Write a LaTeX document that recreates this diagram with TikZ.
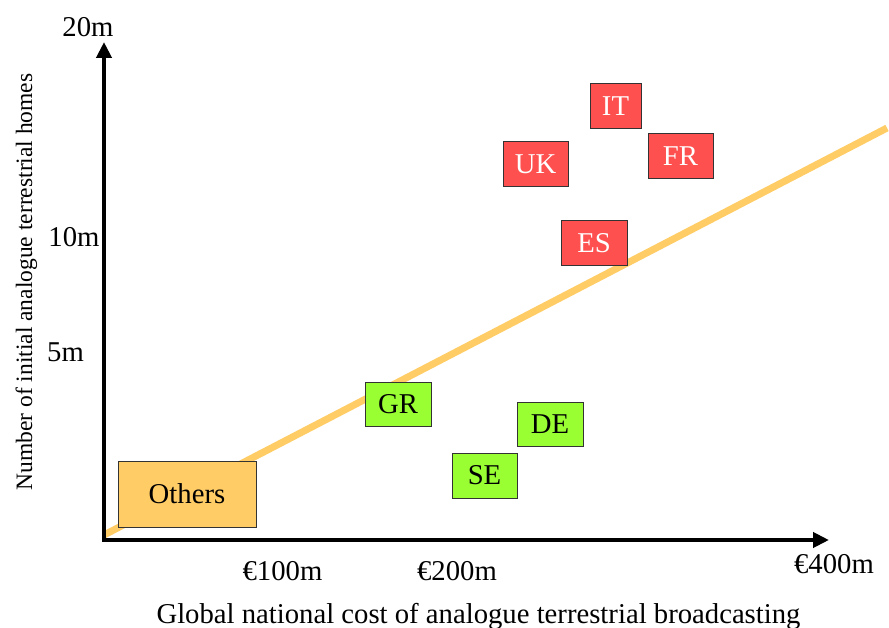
\documentclass[tikz,border=0pt]{standalone}
\usepackage{fontspec}
\setmainfont{Liberation Serif}
\usetikzlibrary{arrows.meta}
\definecolor{boxred}{HTML}{FF5050}
\definecolor{boxgreen}{HTML}{99FF33}
\definecolor{boxorange}{HTML}{FFCC66}
\begin{document}
\begin{tikzpicture}[x=1pt,y=-1pt,
  lbl/.style={font=\fontsize{28.7}{34}\selectfont, inner sep=0pt, anchor=base},
  cbox/.style={draw=black!80, line width=1pt, inner sep=0pt, font=\fontsize{28.7}{34}\selectfont},
  redbox/.style={cbox, fill=boxred, text=white},
  greenbox/.style={cbox, fill=boxgreen, text=black},
  axis/.style={line width=4pt, -{Triangle[length=16pt,width=15pt]}}]
\useasboundingbox (0,0) rectangle (889,628);
% trend line
\coordinate (ls) at (104,535);
\coordinate (le) at (887,128);
\draw[boxorange, line width=7pt] (ls) -- (le);
% axes
\coordinate (o) at (104,540);
\coordinate (oy) at (102,540);
\coordinate (ytip) at (104,42);
\coordinate (xtip) at (829,540);
\draw[axis] (o) -- (ytip);
\draw[axis] (oy) -- (xtip);
% axis labels
\node[lbl] (l20) at (88,37) {20m};
\node[lbl] (l10) at (74,247) {10m};
\node[lbl] (l5) at (65.5,362) {5m};
\node[lbl] (l100) at (282.5,580) {€100m};
\node[lbl] (l200) at (457,580) {€200m};
\node[lbl] (l400) at (834,573) {€400m};
\node[lbl] (xlab) at (478.5,623) {Global national cost of analogue terrestrial broadcasting};
\node[font=\fontsize{23.5}{28}\selectfont, inner sep=0pt, anchor=base, rotate=90] (ylab) at (32,282) {Number of initial analogue terrestrial homes};
% boxes
\node[cbox, fill=boxorange, minimum width=138pt, minimum height=66pt] (others) at (187,494) {Others};
\node[redbox, minimum width=51pt, minimum height=45pt] (it) at (615.5,106.5) {IT};
\node[redbox, minimum width=65pt, minimum height=45pt] (uk) at (535.5,164.5) {UK};
\node[redbox, minimum width=65pt, minimum height=45pt] (fr) at (680.5,156.5) {FR};
\node[redbox, minimum width=66pt, minimum height=45pt] (es) at (594,243.5) {ES};
\node[greenbox, minimum width=66pt, minimum height=44pt] (gr) at (398,404) {GR};
\node[greenbox, minimum width=66pt, minimum height=44pt] (de) at (550,424) {DE};
\node[greenbox, minimum width=65pt, minimum height=45pt] (se) at (484.5,475.5) {SE};
\end{tikzpicture}
\end{document}
